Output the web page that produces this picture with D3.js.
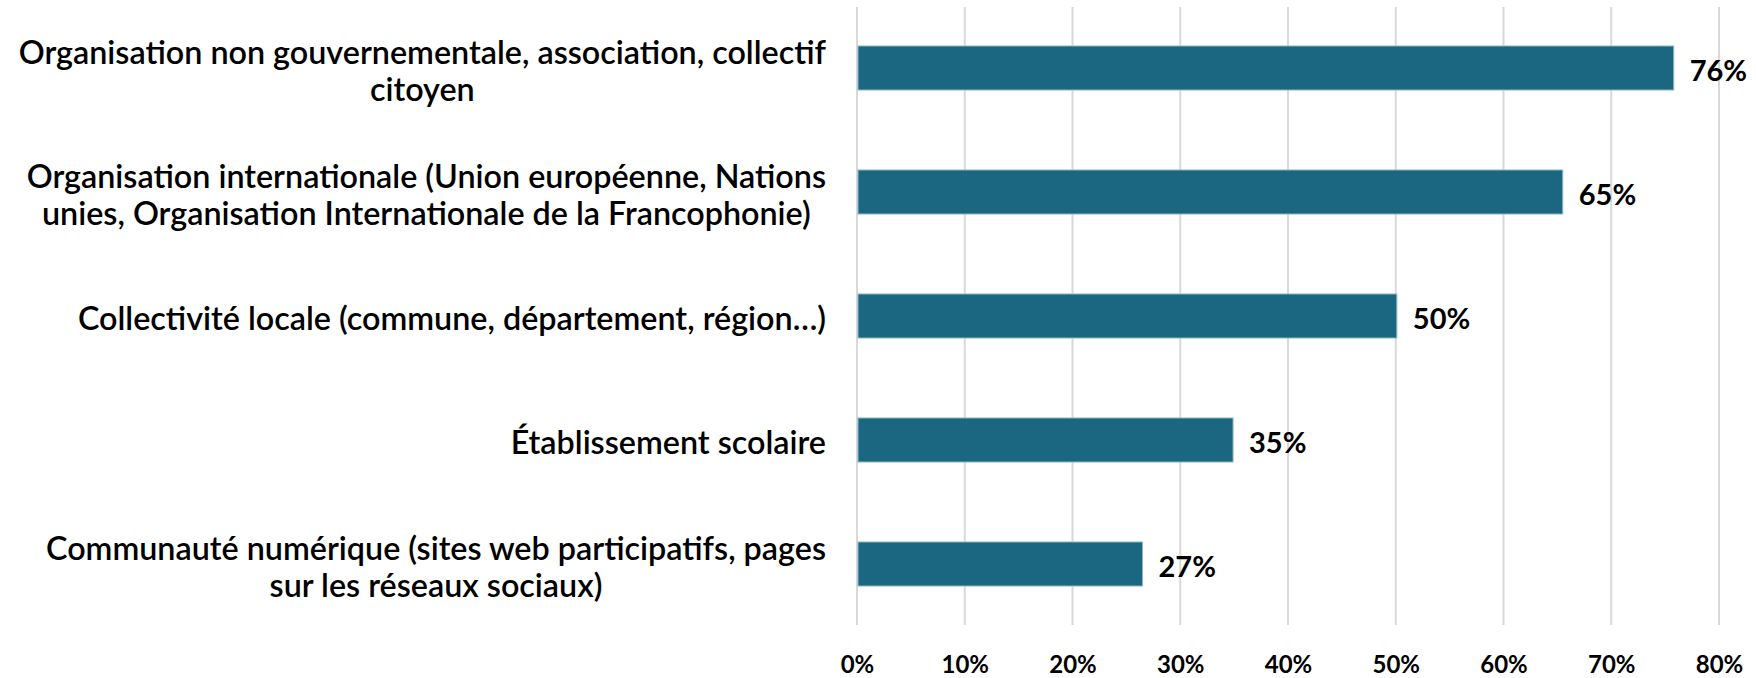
<!DOCTYPE html>
<html>
<head>
<meta charset="utf-8">
<script src="https://cdn.jsdelivr.net/npm/d3@7"></script>
<style>
  html, body { margin: 0; padding: 0; background: #ffffff; }
  svg { display: block; }
</style>
</head>
<body>
<svg id="chart" width="1756" height="678"></svg>
<script>
// ---- data ----
const categories = [
  "Organisation non gouvernementale, association, collectif\ncitoyen",
  "Organisation internationale (Union européenne, Nations\nunies, Organisation Internationale de la Francophonie)",
  "Collectivité locale (commune, département, région…)",
  "Établissement scolaire",
  "Communauté numérique (sites web participatifs, pages\nsur les réseaux sociaux)"
];
const values = [75.8, 65.5, 50.1, 34.9, 26.5];
const valueLabels = ["76%", "65%", "50%", "35%", "27%"];
const tickValues = [0, 10, 20, 30, 40, 50, 60, 70, 80];
const tickLabels = ["0%", "10%", "20%", "30%", "40%", "50%", "60%", "70%", "80%"];

// ---- layout ----
const W = 1756, H = 678;
const plotLeft = 857, plotRight = 1719, plotTop = 6, plotBottom = 626;
const labelRight = 826;
const barColor = "#1b6680";
const catFont = "Lato, 'Open Sans', sans-serif";
const numFont = "Lato, 'Open Sans', sans-serif";

const svg = d3.select("#chart");
svg.append("rect").attr("width", W).attr("height", H).attr("fill", "#fff");

const x = d3.scaleLinear().domain([0, 80]).range([plotLeft, plotRight]);
const y = d3.scaleBand().domain(d3.range(categories.length))
  .range([plotTop, plotBottom]).paddingInner(0.645).paddingOuter(0.3225);

// gridlines
svg.append("g").selectAll("line").data(tickValues).join("line")
  .attr("x1", d => x(d)).attr("x2", d => x(d))
  .attr("y1", plotTop + 1).attr("y2", plotBottom - 1)
  .attr("stroke", "#d9d9d9").attr("stroke-width", 2);

// x axis labels
const xAxis = d3.axisBottom(x).tickValues(tickValues)
  .tickFormat((d, i) => tickLabels[i]).tickSize(0).tickPadding(0);
const gx = svg.append("g").attr("transform", `translate(0, ${H - 26})`).call(xAxis);
gx.select(".domain").remove();
gx.selectAll("text")
  .attr("dy", "0").attr("y", 21)
  .attr("font-family", numFont).attr("font-weight", 700)
  .attr("font-size", 24).attr("fill", "#000");

// bars
svg.append("g").selectAll("rect").data(values).join("rect")
  .attr("x", x(0) + 1)
  .attr("y", (d, i) => y(i))
  .attr("width", d => x(d) - x(0) - 1)
  .attr("height", y.bandwidth())
  .attr("fill", barColor)
  .attr("stroke", "#8fb9c6").attr("stroke-width", 1);

// value labels
svg.append("g").selectAll("text").data(values).join("text")
  .attr("x", d => x(d) + 16)
  .attr("y", (d, i) => y(i) + y.bandwidth() / 2 + 13)
  .attr("font-family", numFont).attr("font-weight", 700)
  .attr("font-size", 29).attr("fill", "#000")
  .text((d, i) => valueLabels[i]);

// category labels
const catSize = 32.3, lineH = 36.5;
const gCat = svg.append("g");
categories.forEach((c, i) => {
  const lines = c.split("\n");
  const cy = y(i) + y.bandwidth() / 2 + 3;
  const t = gCat.append("text")
    .attr("font-family", catFont).attr("font-weight", 600)
    .attr("font-size", catSize).attr("fill", "#000")
    .attr("text-anchor", "middle");
  const spans = lines.map((ln, k) => t.append("tspan")
    .attr("y", cy + (k - (lines.length - 1) / 2) * lineH + catSize * 0.35)
    .text(ln));
  const maxW = d3.max(spans, s => s.node().getComputedTextLength());
  spans.forEach(s => s.attr("x", labelRight - maxW / 2));
});
</script>
</body>
</html>
